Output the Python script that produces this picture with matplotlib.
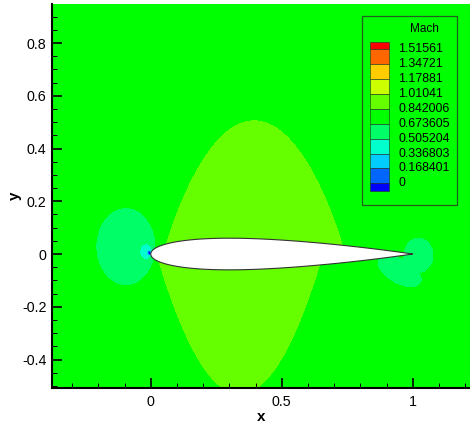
import numpy as np
import matplotlib.pyplot as plt
from matplotlib.patches import Rectangle

plt.rcParams['font.family'] = ['Liberation Sans', 'DejaVu Sans']

# contour levels of the Mach legend and the band colours (lowest band first)
levels = [0, 0.168401, 0.336803, 0.505204, 0.673605, 0.842006,
          1.01041, 1.17881, 1.34721, 1.51561]
level_labels = ['0', '0.168401', '0.336803', '0.505204', '0.673605',
                '0.842006', '1.01041', '1.17881', '1.34721', '1.51561']
band_colors = ['#0000ff', '#0066ff', '#00ccff', '#00ffcc', '#00ff66',
               '#00ff00', '#66ff00', '#ccff00', '#ffcc00', '#ff6600', '#ff0000']

m_inf = 0.76           # free stream Mach (inside the 0.67-0.84 band)
thickness = 0.12       # NACA 0012

# faster regions above / below the airfoil: centre x, half width, height, exponent
upper_lobe = [0.395, 0.345, 0.505, 1.1]
lower_lobe = [0.34, 0.317, 0.53, 1.0]
# slower regions: cx, cy, rx, ry, angle (deg), edge level, slope
le_blobs = [[-0.095, 0.028, 0.115, 0.149, 0, 0.673605, 0.10],
            [-0.018, 0.009, 0.025, 0.030, 0, 0.505204, 0.12],
            [-0.006, 0.004, 0.012, 0.012, 0, 0.336803, 0.60]]
te_blobs = [[1.022, -0.005, 0.060, 0.070, 0, 0.673605, 0.10],
            [0.950, -0.065, 0.095, 0.050, -29, 0.673605, 0.10]]


def naca(t, n=200):
    b = np.linspace(0, np.pi, n)
    xc = 0.5 * (1 - np.cos(b))
    yt = 5 * t * (0.2969 * np.sqrt(xc) - 0.1260 * xc - 0.3516 * xc**2
                  + 0.2843 * xc**3 - 0.1036 * xc**4)
    return np.concatenate([xc[::-1], xc[1:]]), np.concatenate([yt[::-1], -yt[1:]])


def lobe(X, Y, prm, side):
    xc, a, b, p = prm
    q = ((X - xc) / a)**2 + np.abs(Y / b)**p
    val = levels[5] + 0.1 * (1 - q)
    return np.where(side * Y >= 0, val, -10.0)


def blob(X, Y, prm):
    cx, cy, rx, ry, ang, edge, slope = prm
    c, s = np.cos(np.radians(ang)), np.sin(np.radians(ang))
    u = ((X - cx) * c + (Y - cy) * s) / rx
    v = (-(X - cx) * s + (Y - cy) * c) / ry
    d = np.sqrt(u * u + v * v) - 1
    # gentle inside the blob, steep outside so it never touches other regions
    return edge + np.where(d < 0, slope, 3.0) * d


X, Y = np.meshgrid(np.linspace(-0.42, 1.25, 1000), np.linspace(-0.55, 1.0, 900))
M = np.full_like(X, m_inf)
M = np.maximum(M, lobe(X, Y, upper_lobe, 1))
M = np.maximum(M, lobe(X, Y, lower_lobe, -1))
for prm in le_blobs:
    M = np.minimum(M, blob(X, Y, prm))
k = 0.012
te = -k * np.logaddexp(-blob(X, Y, te_blobs[0]) / k, -blob(X, Y, te_blobs[1]) / k)
M = np.minimum(M, te)

fig = plt.figure(figsize=(4.7, 4.26), dpi=100)
ax = fig.add_axes([52 / 470, 38 / 426, 418 / 470, 384 / 426])
ax.contourf(X, Y, M, levels=[-10] + levels + [10], colors=band_colors)

xa, ya = naca(thickness)
ax.fill(xa, ya, facecolor='white', edgecolor='#333333', lw=0.8, zorder=3)

ax.set_xlim(-0.377, 1.2187)
ax.set_ylim(-0.508, 0.948)
ax.set_xticks([0, 0.5, 1])
ax.set_xticklabels(['0', '0.5', '1'])
ax.set_yticks([-0.4, -0.2, 0, 0.2, 0.4, 0.6, 0.8])
ax.set_yticklabels(['-0.4', '-0.2', '0', '0.2', '0.4', '0.6', '0.8'])
ax.set_xticks(np.arange(-0.3, 1.25, 0.1), minor=True)
ax.set_yticks(np.arange(-0.5, 0.95, 0.05), minor=True)
ax.tick_params(which='major', direction='in', length=7, width=1.2, labelsize=10.3, pad=4)
ax.tick_params(which='minor', direction='in', length=3.5, width=0.7)
ax.tick_params(axis='x', which='major', pad=5)
for side in ['top', 'right']:
    ax.spines[side].set_visible(False)
for side in ['left', 'bottom']:
    ax.spines[side].set_linewidth(1.5)
ax.set_xlabel('x', fontsize=11, fontweight='bold', labelpad=1)
ax.set_ylabel('y', fontsize=11, fontweight='bold', labelpad=0)

# Tecplot-style legend box (pixel coordinates of the picture)
lax = fig.add_axes([362 / 470, 1 - 205 / 426, 95 / 470, 189 / 426])
lax.set_xlim(362, 457)
lax.set_ylim(205, 16)
lax.axis('off')
lax.add_patch(Rectangle((0, 0), 1, 1, transform=lax.transAxes, fill=False,
                        ec='#1f5f1f', lw=0.9, clip_on=False))
lax.text(424, 29, 'Mach', ha='center', va='center', fontsize=8.5)
step = 14.89
bounds = [41.7] + [49.3 + i * step for i in range(len(levels))] + [191.0]
for i, col in enumerate(band_colors[::-1]):
    lax.add_patch(Rectangle((370, bounds[i]), 18.7, bounds[i + 1] - bounds[i],
                            facecolor=col, edgecolor='#2a2a2a', lw=0.4))
for i, lab in enumerate(level_labels[::-1]):
    lax.text(398.3, bounds[i + 1], lab, ha='left', va='center', fontsize=8.9)

fig.savefig('out.png', dpi=100)
